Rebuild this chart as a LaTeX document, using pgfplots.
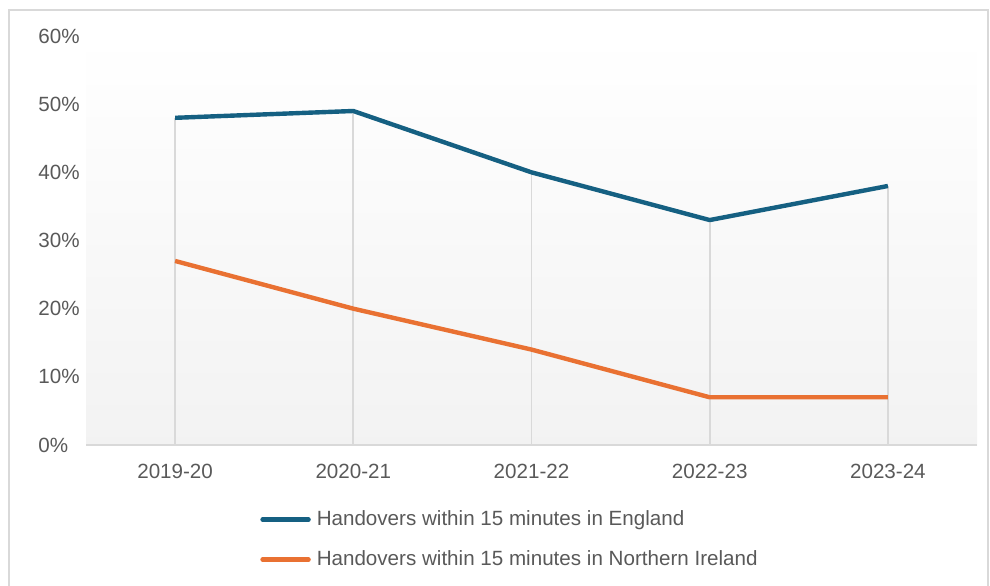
\documentclass[border=0pt]{standalone}
\usepackage{pgfplots}
\pgfplotsset{compat=1.18}
\usepackage{fontspec}
\setmainfont{Liberation Sans}
\definecolor{eng}{HTML}{156082}
\definecolor{ni}{HTML}{E97132}
\definecolor{txt}{HTML}{595959}
\definecolor{gridc}{HTML}{D9D9D9}
\begin{document}
\begin{tikzpicture}[x=1pt,y=1pt]
\useasboundingbox (0,0) rectangle (495,292.5);
\draw[gridc, line width=0.8pt] (4.5,-2) rectangle (494,287.5);
\begin{axis}[
  at={(43pt,70pt)}, anchor=south west,
  width=445.5pt, height=204.5pt, scale only axis,
  xmin=-0.5, xmax=4.5, ymin=0, ymax=60,
  xtick={0,1,2,3,4},
  xticklabels={2019-20,2020-21,2021-22,2022-23,2023-24},
  ytick={0,10,20,30,40,50,60},
  yticklabel={\pgfmathprintnumber{\tick}\%},
  /pgf/number format/assume math mode=true,
  axis line style={draw=none},
  major tick length=0pt,
  tick label style={font=\fontsize{10.3}{12}\selectfont, text=txt},
  yticklabel style={anchor=west, inner sep=0pt, xshift=-24pt},
  xticklabel style={yshift=-6pt},
  axis background/.style={top color=white, bottom color=black!5},
  clip=false,
  legend style={draw=none, fill=none, at={(axis description cs:0.1885,-0.145)}, anchor=north west,
    font=\fontsize{10.3}{12}\selectfont, text=txt, row sep=9pt,
    nodes={inner sep=1pt}, cells={anchor=west},
    /tikz/every odd column/.style={column sep=2pt}},
  legend cell align=left,
  legend image code/.code={\draw[#1, line cap=round] (0pt,0pt) -- (23pt,0pt);},
]
\addplot[gridc, line width=0.9pt, ycomb, forget plot] coordinates {(0,48) (1,49) (2,40) (3,33) (4,38)};
\draw[gridc, line width=1.2pt] (axis cs:-0.5,0) -- (axis cs:4.5,0);
\addplot[eng, line width=2.2pt, line join=round, mark=none] coordinates {(0,48) (1,49) (2,40) (3,33) (4,38)};
\addlegendentry{Handovers within 15 minutes in England}
\addplot[ni, line width=2.2pt, line join=round, mark=none] coordinates {(0,27) (1,20) (2,14) (3,7) (4,7)};
\addlegendentry{Handovers within 15 minutes in Northern Ireland}
\end{axis}
\end{tikzpicture}
\end{document}
